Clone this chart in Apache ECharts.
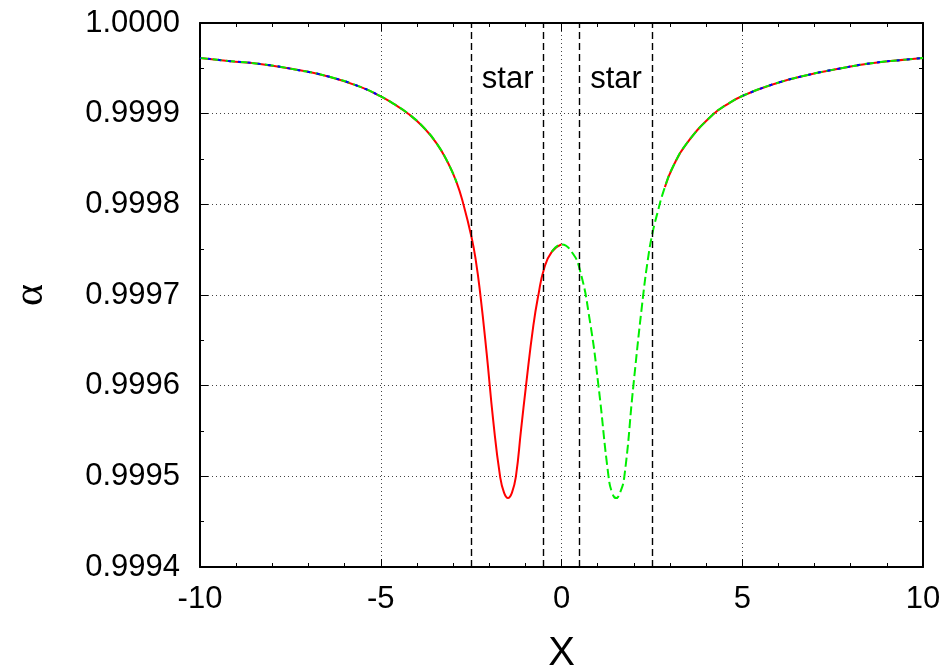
<!DOCTYPE html>
<html>
<head>
<meta charset="utf-8">
<script src="https://cdn.jsdelivr.net/npm/echarts@6/dist/echarts.min.js"></script>
<style>
  html, body { margin: 0; padding: 0; background: #fff; }
  #chart { width: 952px; height: 670px; }
</style>
</head>
<body>
<div id="chart"></div>
<script>
// ---- data ----
const xValues = [
  -10.00, -9.22, -8.29, -7.37, -6.45, -5.53, -5.00, -4.65, -4.24, -3.82,
  -3.45, -3.13, -2.90, -2.72, -2.49, -2.37, -2.25, -2.07, -1.89, -1.70,
  -1.59, -1.48, -1.37, -1.26, -1.12, -0.98, -0.78, -0.64, -0.48, -0.27,
  0.00,
  0.28, 0.51, 0.79, 1.02, 1.30, 1.40, 1.51, 1.62, 1.74,
  1.99, 2.26, 2.40, 2.50, 2.63, 2.86, 3.09, 3.46, 4.16, 4.57,
  5.03, 5.86, 6.78, 7.70, 8.63, 9.55, 10.00
];
const alphaValues = [
  0.9999615, 0.9999582, 0.9999546, 0.9999487, 0.9999410, 0.9999290, 0.9999190, 0.9999110, 0.9999000, 0.9998850,
  0.9998670, 0.9998450, 0.9998240, 0.9998010, 0.9997640, 0.9997380, 0.9997020, 0.9996356, 0.9995621, 0.9995003,
  0.9994820, 0.9994760, 0.9994820, 0.9995003, 0.9995510, 0.9996007, 0.9996660, 0.9996999, 0.9997293, 0.9997476,
  0.9997558,
  0.9997476, 0.9997274, 0.9996700, 0.9996007, 0.9995003, 0.9994820, 0.9994760, 0.9994820, 0.9995003,
  0.9996007, 0.9996999, 0.9997420, 0.9997650, 0.9997870, 0.9998190, 0.9998420, 0.9998670, 0.9998980, 0.9999100,
  0.9999200, 0.9999325, 0.9999424, 0.9999498, 0.9999560, 0.9999597, 0.9999615
];
// x-ranges covered by each curve (red solid, green dashed, blue dashed)
const redRanges = [[-10, 0], [2.86, 10]];
const greenRanges = [[-10, -2.9], [-0.27, 10]];
const blueRanges = [[-10, -5], [5, 10]];
// vertical dashed boundaries of the stars
const boundaries = [-2.5, -0.5, 0.5, 2.5];
// annotations
const starLabels = [
  { x: -1.49, y: 0.999938, text: 'star' },
  { x: 1.51, y: 0.999938, text: 'star' }
];
const xTicks = { min: -10, max: 10, interval: 5 };
const yTicks = { min: 0.9994, max: 1.0000, interval: 0.0001 };

// ---- build series ----
function segment(r) {
  const d = [];
  xValues.forEach((x, i) => {
    if (x >= r[0] - 1e-9 && x <= r[1] + 1e-9) d.push([x, alphaValues[i]]);
  });
  return d;
}
const FONT = 'Liberation Sans';
const SMOOTH = 0.5;
const series = [];
redRanges.forEach((r, k) => {
  series.push({
    type: 'line', data: segment(r), showSymbol: false, smooth: SMOOTH,
    lineStyle: { color: '#ff0000', width: 2 }, z: 3,
    markLine: k === 0 ? {
      silent: true, symbol: ['none', 'none'], label: { show: false },
      lineStyle: { color: '#000', width: 1.4, type: [7, 4] },
      data: boundaries.map(v => ({ xAxis: v }))
    } : undefined
  });
});
greenRanges.forEach(r => {
  series.push({
    type: 'line', data: segment(r), showSymbol: false, smooth: SMOOTH,
    lineStyle: { color: '#00ee00', width: 2, type: [9, 4] }, z: 4
  });
});
blueRanges.forEach(r => {
  series.push({
    type: 'line', data: segment(r), showSymbol: false, smooth: SMOOTH,
    lineStyle: { color: '#0000ff', width: 2, type: [3, 7], dashOffset: 2 }, z: 5
  });
});
series.push({
  type: 'scatter', symbolSize: 0, silent: true, z: 6,
  itemStyle: { opacity: 1 },
  data: starLabels.map(s => ({ value: [s.x, s.y], name: s.text })),
  label: {
    show: true, position: 'inside', formatter: p => p.name, opacity: 1,
    fontFamily: FONT, fontSize: 31, color: '#000', textBorderWidth: 0
  }
});

const axisLine = { show: true, onZero: false, lineStyle: { color: '#000', width: 2 } };
const splitLine = { show: true, lineStyle: { color: '#444', width: 1, type: [1, 3] } };
const tick = { show: true, inside: true, length: 8, lineStyle: { color: '#000', width: 1 } };

const option = {
  animation: false,
  backgroundColor: '#fff',
  grid: { left: 200, right: 29, top: 23, bottom: 103, outerBoundsMode: 'none', containLabel: false },
  xAxis: [
    {
      type: 'value', position: 'bottom', min: xTicks.min, max: xTicks.max, interval: xTicks.interval,
      axisLine, splitLine, axisTick: tick,
      minorTick: { show: true, splitNumber: 5, length: 4, lineStyle: { color: '#000', width: 1 } },
      axisLabel: { fontFamily: FONT, fontSize: 31, color: '#000', margin: 17 },
      name: 'X', nameLocation: 'middle', nameGap: 67,
      nameTextStyle: { fontFamily: FONT, fontSize: 40, color: '#000' }
    },
    {
      type: 'value', position: 'top', min: xTicks.min, max: xTicks.max, interval: xTicks.interval,
      axisLine, splitLine: { show: false }, axisTick: tick,
      minorTick: { show: true, splitNumber: 5, length: 4, lineStyle: { color: '#000', width: 1 } },
      axisLabel: { show: false }
    }
  ],
  yAxis: [
    {
      type: 'value', position: 'left', min: yTicks.min, max: yTicks.max, interval: yTicks.interval,
      axisLine, splitLine, axisTick: tick,
      minorTick: { show: true, splitNumber: 2, length: 4, lineStyle: { color: '#000', width: 1 } },
      axisLabel: { fontFamily: FONT, fontSize: 31, color: '#000', margin: 20, formatter: v => v.toFixed(4) },
      name: 'α', nameLocation: 'middle', nameGap: 148,
      nameTextStyle: { fontFamily: 'Liberation Serif', fontSize: 42, color: '#000' }
    },
    {
      type: 'value', position: 'right', min: yTicks.min, max: yTicks.max, interval: yTicks.interval,
      axisLine, splitLine: { show: false }, axisTick: tick,
      minorTick: { show: true, splitNumber: 2, length: 4, lineStyle: { color: '#000', width: 1 } },
      axisLabel: { show: false }
    }
  ],
  series
};
const chart = echarts.init(document.getElementById('chart'), null, { renderer: 'canvas' });
chart.setOption(option);
</script>
</body>
</html>
